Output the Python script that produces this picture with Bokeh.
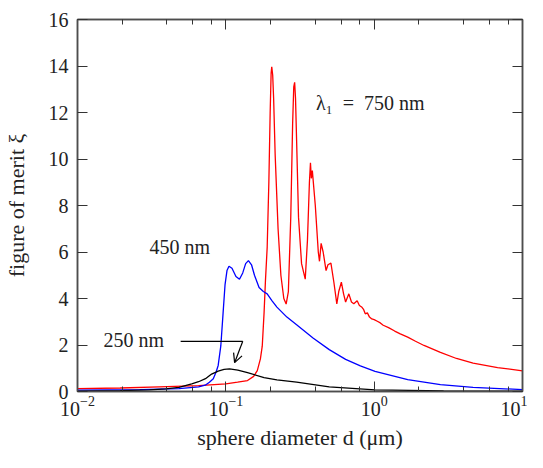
from bokeh.plotting import figure
from bokeh.models import Range1d, LinearAxis, LogAxis, Label, Arrow, OpenHead, FixedTicker, LogTicker
from bokeh.embed import file_html
from bokeh.resources import INLINE

# ---- data (d in micrometres, figure of merit xi) ----
red_d = [0.010, 0.0194, 0.0356, 0.0655, 0.100, 0.120, 0.140, 0.154, 0.163, 0.171,
         0.176, 0.181, 0.185, 0.190, 0.195, 0.199, 0.202, 0.204, 0.207, 0.210, 0.215, 0.225,
         0.235, 0.246, 0.255, 0.264, 0.274, 0.282, 0.287, 0.291, 0.295, 0.300, 0.309, 0.324,
         0.343, 0.355, 0.366, 0.372, 0.377, 0.383, 0.401, 0.420, 0.428, 0.439,
         0.453, 0.474, 0.488, 0.511, 0.535, 0.560, 0.577, 0.601, 0.622, 0.642,
         0.675, 0.703, 0.729, 0.768, 0.795, 0.828, 0.850, 0.871, 0.900, 0.930,
         0.964, 1.000, 1.050, 1.100, 1.151, 1.250, 1.375, 1.500, 1.683, 1.900,
         2.168, 2.797, 3.589, 4.645, 6.790, 10.0]
red_xi = [0.12, 0.15, 0.20, 0.25, 0.33, 0.40, 0.47, 0.65, 0.90, 1.40,
          1.95, 3.37, 4.78, 6.20, 9.00, 12.0, 13.70, 13.97, 13.6, 12.6, 10.2, 7.00,
          5.00, 4.00, 3.76, 4.30, 7.50, 11.5, 13.1, 13.3, 12.6, 10.8, 7.50, 5.50,
          4.83, 6.50, 9.00, 9.84, 9.17, 9.50, 8.00, 6.00, 5.60, 6.37,
          6.00, 5.20, 5.45, 5.52, 4.70, 3.77, 4.30, 4.70, 4.20, 3.85,
          4.20, 3.85, 3.77, 3.90, 3.70, 3.62, 3.52, 3.34, 3.38, 3.20,
          3.12, 3.09, 3.02, 2.95, 2.85, 2.75, 2.60, 2.48, 2.34, 2.16,
          1.98, 1.68, 1.42, 1.22, 1.03, 0.89]

blue_d = [0.010, 0.0263, 0.0483, 0.0655, 0.0726, 0.0775, 0.0823, 0.0861, 0.0888, 0.0925,
          0.0958, 0.0988, 0.1018, 0.105, 0.110, 0.117, 0.1236, 0.130, 0.136, 0.142,
          0.149, 0.156, 0.1675, 0.179, 0.190, 0.205, 0.221, 0.258, 0.300, 0.387,
          0.498, 0.642, 0.807, 1.014, 1.683, 2.797, 4.645, 10.0]
blue_xi = [0.06, 0.08, 0.12, 0.20, 0.27, 0.40, 0.55, 0.85, 1.12, 1.96,
           3.36, 4.60, 5.20, 5.39, 5.30, 4.95, 4.83, 5.10, 5.50, 5.63,
           5.45, 5.00, 4.47, 4.30, 4.20, 3.90, 3.63, 3.20, 2.87, 2.30,
           1.80, 1.38, 1.10, 0.87, 0.51, 0.30, 0.18, 0.08]

black_d = [0.010, 0.0194, 0.0306, 0.0394, 0.0483, 0.0589, 0.0655, 0.0729, 0.0802, 0.0888,
           0.0973, 0.106, 0.1205, 0.140, 0.181, 0.221, 0.300, 0.498, 1.014, 2.94, 10.0]
black_xi = [0.02, 0.04, 0.07, 0.11, 0.18, 0.33, 0.42, 0.55, 0.75, 0.88,
            0.95, 0.97, 0.92, 0.81, 0.60, 0.50, 0.40, 0.20, 0.07, 0.03, 0.01]

y_ticks = [0, 2, 4, 6, 8, 10, 12, 14, 16]
x_tick_labels = ["10\u207b\u00b2", "10\u207b\u00b9", "10\u2070", "10\u00b9"]

FONT = "'Liberation Serif', 'DejaVu Serif', serif"
FRAME = "#4d4d4d"

p = figure(width=527, height=452, x_axis_type="log",
           x_range=Range1d(0.01, 10), y_range=Range1d(0, 16),
           output_backend="svg", toolbar_location=None,
           min_border_left=76, min_border_right=5, min_border_top=19, min_border_bottom=59)
p.grid.visible = False
p.background_fill_color = "white"
p.border_fill_color = "white"
p.outline_line_color = FRAME
p.outline_line_width = 1.5

p.line(red_d, red_xi, line_color="#ff0000", line_width=1.3)
p.line(blue_d, blue_xi, line_color="#0000ff", line_width=1.3)
p.line(black_d, black_xi, line_color="#000000", line_width=1.3)

def style(ax, labels=True):
    ax.axis_line_color = FRAME
    ax.axis_line_width = 1.5
    ax.major_tick_in = 10
    ax.major_tick_out = 0
    ax.minor_tick_in = 5
    ax.minor_tick_out = 0
    ax.major_tick_line_color = "#333333"
    ax.minor_tick_line_color = "#333333"
    ax.major_label_text_font = FONT
    if labels:
        ax.major_label_text_font_size = "20px"
        ax.major_label_text_color = "#222222"
    else:
        ax.major_label_text_font_size = "1px"
        ax.major_label_text_color = None
    ax.axis_label_text_font = FONT
    ax.axis_label_text_font_size = "22px"
    ax.axis_label_text_font_style = "normal"
    ax.axis_label_text_color = "#222222"

xa = p.xaxis[0]
xa.ticker = LogTicker(desired_num_ticks=4)
xa.major_label_overrides = dict(zip(["0.01", "0.1", "1", "10"], x_tick_labels))
style(xa)
xa.major_label_standoff = 4
xa.axis_label = "sphere diameter d (\u03bcm)"
xa.axis_label_standoff = 6

ya = p.yaxis[0]
ya.ticker = FixedTicker(ticks=y_ticks)
style(ya)
ya.minor_tick_line_color = None
ya.major_label_standoff = 9
ya.axis_label = "figure of merit \u03be"
ya.axis_label_standoff = 17

top = LogAxis(ticker=LogTicker(desired_num_ticks=4))
style(top, labels=False)
top.major_label_standoff = 0
p.add_layout(top, "above")

right = LinearAxis(ticker=FixedTicker(ticks=y_ticks))
style(right, labels=False)
right.minor_tick_line_color = None
right.major_label_standoff = 0
p.add_layout(right, "right")

# ---- text labels and annotation ----
def lab(x, y, t):
    p.add_layout(Label(x=x, y=y, text=t, text_font=FONT, text_font_size="20px",
                       text_color="#222222", text_baseline="middle", text_align="left"))

lab(0.406, 12.4, "\u03bb\u2081\u2002=\u2002750\u00a0nm")
lab(0.0306, 6.2, "450\u00a0nm")
lab(0.0150, 2.21, "250\u00a0nm")

p.add_layout(Arrow(x_start=0.0496, y_start=2.16, x_end=0.130, y_end=2.16, end=None,
                   line_color="black", line_width=1.2))
p.add_layout(Arrow(x_start=0.130, y_start=2.16, x_end=0.1146, y_end=1.24,
                   end=OpenHead(size=9, line_color="black", line_width=1.2),
                   line_color="black", line_width=1.2))

open("out.html", "w").write(file_html(p, INLINE))
